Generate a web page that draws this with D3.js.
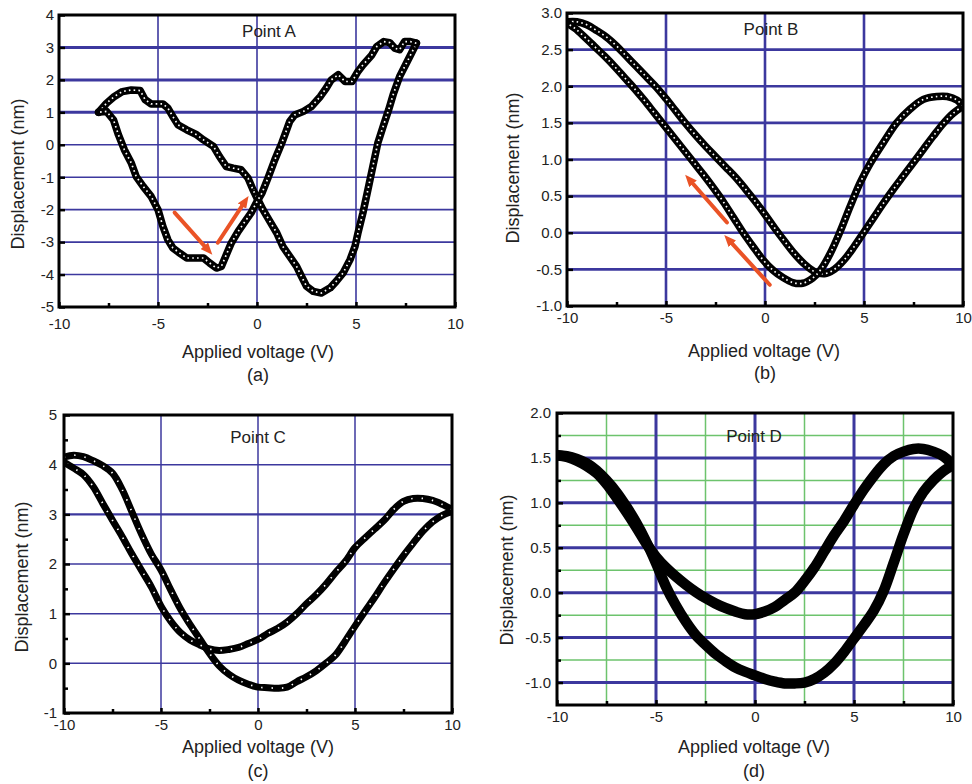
<!DOCTYPE html>
<html>
<head>
<meta charset="utf-8">
<script src="https://cdn.jsdelivr.net/npm/d3@7"></script>
<style>
  body { margin: 0; background: #fff; }
  svg { display: block; font-family: "Liberation Sans", Arial, Helvetica, sans-serif; }
</style>
</head>
<body>
<svg id="fig" width="972" height="784"></svg>
<script>
// ---- data (voltage V, displacement nm) ----
var xTicks = [-10, -5, 0, 5, 10];
var xMinor = [-7.5, -2.5, 2.5, 7.5];

var aYTicks = [-5, -4, -3, -2, -1, 0, 1, 2, 3, 4];
var bYTicks = [-1.0, -0.5, 0.0, 0.5, 1.0, 1.5, 2.0, 2.5, 3.0];
var cYTicks = [-1, 0, 1, 2, 3, 4, 5];
var dYTicks = [-1.0, -0.5, 0.0, 0.5, 1.0, 1.5, 2.0];

// point A
var aForward = [[-8.0,1.0],[-7.6,1.28],[-7.2,1.49],[-6.8,1.64],[-6.35,1.69],[-5.9,1.67],[-5.65,1.39],[-5.35,1.26],
  [-4.75,1.26],[-4.5,1.13],[-4.25,0.87],[-4.0,0.62],[-3.55,0.46],[-3.05,0.31],[-2.7,0.15],[-2.2,-0.05],[-1.9,-0.36],
  [-1.55,-0.67],[-1.2,-0.72],[-0.8,-0.77],[-0.45,-1.03],[-0.2,-1.39],[0,-1.64],[0.3,-2.0],[0.65,-2.36],[1.0,-2.72],
  [1.3,-3.13],[1.65,-3.44],[2.0,-3.75],[2.25,-4.06],[2.5,-4.36],[2.85,-4.52],[3.25,-4.57],[3.7,-4.41],[4.0,-4.21],
  [4.35,-3.95],[4.7,-3.54],[4.95,-3.13],[5.1,-2.72],[5.35,-2.1],[5.6,-1.39],[5.85,-0.67],[6.1,0.05],[6.4,0.62],
  [6.65,1.08],[6.9,1.59],[7.2,2.1],[7.55,2.52],[7.8,2.82],[8.05,3.13]];
var aReverse = [[8.05,3.13],[7.75,3.18],[7.45,3.18],[7.2,2.93],[6.95,2.98],[6.7,3.15],[6.4,3.18],[6.05,3.03],[5.8,2.77],
  [5.35,2.46],[5.1,2.26],[4.8,1.95],[4.45,1.95],[4.1,2.16],[3.75,2.0],[3.5,1.75],[3.2,1.49],[2.75,1.18],[2.35,1.03],
  [1.9,0.92],[1.65,0.72],[1.5,0.46],[1.25,0.05],[0.9,-0.46],[0.55,-1.03],[0.25,-1.49],[0,-1.75],[-0.3,-2.1],
  [-0.6,-2.36],[-0.95,-2.67],[-1.3,-3.03],[-1.55,-3.39],[-1.8,-3.75],[-2.05,-3.8],[-2.4,-3.64],[-2.7,-3.49],
  [-3.15,-3.49],[-3.55,-3.49],[-3.9,-3.34],[-4.25,-3.18],[-4.5,-2.93],[-4.75,-2.52],[-5.0,-2.0],[-5.35,-1.59],
  [-5.75,-1.28],[-6.1,-0.98],[-6.35,-0.56],[-6.7,-0.15],[-7.0,0.31],[-7.25,0.77],[-7.6,1.03],[-8.0,1.0]];
var aArrows = [[[-4.16,-2.09],[-2.49,-3.23]], [[-1.98,-3.02],[-0.62,-1.76]]];

// point B
var bForward = [[-10,2.88],[-9.5,2.88],[-9.0,2.84],[-8.5,2.76],[-8.0,2.67],[-7.5,2.55],[-7.0,2.41],[-6.5,2.27],
  [-6.0,2.13],[-5.5,1.99],[-5.0,1.83],[-4.5,1.66],[-4.0,1.49],[-3.5,1.33],[-3.0,1.18],[-2.5,1.04],[-2.0,0.9],
  [-1.5,0.76],[-1.0,0.6],[-0.5,0.43],[0,0.25],[0.5,0.06],[1.0,-0.12],[1.5,-0.29],[2.0,-0.43],[2.5,-0.53],
  [3.0,-0.56],[3.5,-0.5],[4.0,-0.37],[4.5,-0.19],[5.0,0.01],[5.5,0.21],[6.0,0.41],[6.5,0.6],[7.0,0.78],
  [7.5,0.96],[8.0,1.14],[8.5,1.32],[9.0,1.49],[9.5,1.63],[10,1.73]];
var bReverse = [[10,1.73],[9.7,1.81],[9.2,1.86],[8.7,1.86],[8.0,1.82],[7.3,1.68],[6.65,1.5],[6.0,1.24],[5.3,0.94],
  [4.8,0.68],[4.3,0.36],[3.8,0.02],[3.3,-0.28],[2.8,-0.51],[2.4,-0.62],[1.9,-0.69],[1.4,-0.68],[0.9,-0.61],
  [0.4,-0.51],[-0.1,-0.37],[-0.6,-0.19],[-1.1,0.0],[-1.6,0.21],[-2.1,0.42],[-2.6,0.61],[-3.1,0.79],[-3.6,0.96],
  [-4.1,1.13],[-4.6,1.3],[-5.1,1.47],[-5.6,1.64],[-6.1,1.81],[-6.6,1.97],[-7.1,2.12],[-7.6,2.27],[-8.1,2.41],
  [-8.6,2.54],[-9.1,2.67],[-9.6,2.79],[-10,2.86]];
var bArrows = [[[-1.92,0.14],[-3.8,0.72]], [[0.24,-0.71],[-1.82,-0.1]]];

// point C
var cForward = [[-10,4.15],[-9.5,4.19],[-9.0,4.16],[-8.5,4.08],[-8.0,3.98],[-7.5,3.83],[-7.0,3.5],[-6.5,3.05],
  [-6.0,2.6],[-5.5,2.2],[-5.0,1.88],[-4.5,1.48],[-4.0,1.1],[-3.5,0.78],[-3.0,0.49],[-2.5,0.2],[-2.0,-0.05],
  [-1.5,-0.22],[-1.0,-0.34],[-0.5,-0.42],[0,-0.48],[0.5,-0.49],[1.0,-0.5],[1.5,-0.48],[2.0,-0.37],[2.5,-0.27],
  [3.0,-0.15],[3.5,0.0],[4.0,0.17],[4.5,0.45],[5.0,0.75],[5.5,1.04],[6.0,1.32],[6.5,1.62],[7.0,1.9],[7.5,2.17],
  [8.0,2.42],[8.5,2.66],[9.0,2.85],[9.5,2.98],[10,3.06]];
var cReverse = [[10,3.1],[9.5,3.2],[9.0,3.28],[8.5,3.32],[8.0,3.32],[7.5,3.26],[7.0,3.1],[6.5,2.88],[6.0,2.7],
  [5.5,2.52],[5.0,2.33],[4.5,2.05],[4.0,1.83],[3.5,1.59],[3.0,1.38],[2.5,1.2],[2.0,1.0],[1.5,0.83],[1.0,0.7],
  [0.5,0.6],[0,0.48],[-0.5,0.4],[-1.0,0.32],[-1.5,0.28],[-2.0,0.26],[-2.5,0.29],[-3.0,0.37],[-3.5,0.47],
  [-4.0,0.62],[-4.5,0.85],[-5.0,1.15],[-5.5,1.54],[-6.0,1.87],[-6.5,2.2],[-7.0,2.55],[-7.5,2.88],[-8.0,3.22],
  [-8.5,3.56],[-9.0,3.8],[-9.5,3.93],[-10,4.05]];

// point D
var dUpper = [[-10,1.53],[-9.5,1.51],[-9.0,1.47],[-8.5,1.41],[-8.0,1.33],[-7.5,1.21],[-7.0,1.06],[-6.5,0.9],
  [-6.0,0.73],[-5.5,0.55],[-5.0,0.4],[-4.5,0.28],[-4.0,0.18],[-3.5,0.09],[-3.0,0.01],[-2.5,-0.06],[-2.0,-0.12],
  [-1.5,-0.17],[-1.0,-0.21],[-0.5,-0.24],[0,-0.24],[0.5,-0.21],[1.0,-0.16],[1.5,-0.08],[2.0,0.0],[2.5,0.13],
  [3.0,0.28],[3.5,0.46],[4.0,0.64],[4.5,0.8],[5.0,0.98],[5.5,1.15],[6.0,1.3],[6.5,1.43],[7.0,1.52],[7.5,1.57],
  [8.0,1.6],[8.5,1.6],[9.0,1.57],[9.5,1.52],[10,1.42]];
var dLower = [[10,1.42],[9.5,1.35],[9.0,1.25],[8.5,1.12],[8.0,0.93],[7.5,0.65],[7.0,0.33],[6.5,0.02],[6.0,-0.2],
  [5.5,-0.36],[5.0,-0.51],[4.5,-0.66],[4.0,-0.79],[3.5,-0.89],[3.0,-0.96],[2.5,-1.0],[2.0,-1.01],[1.5,-1.01],
  [1.0,-0.99],[0.5,-0.96],[0,-0.92],[-0.5,-0.88],[-1.0,-0.83],[-1.5,-0.76],[-2.0,-0.68],[-2.5,-0.58],[-3.0,-0.47],
  [-3.5,-0.32],[-4.0,-0.14],[-4.5,0.07],[-5.0,0.33],[-5.5,0.57],[-6.0,0.78],[-6.5,0.96],[-7.0,1.12],[-7.5,1.25],
  [-8.0,1.36],[-8.5,1.44],[-9.0,1.49],[-9.5,1.52],[-10,1.53]];

var BLUE = '#3c389e', GREEN = '#6dc36d', RED = '#ea5326';

var panels = [
  { letter: '(a)', title: 'Point A', left: 59, right: 455, top: 15, bottom: 307, yDomain: [-5, 4],
    yTicks: aYTicks, yMinor: [], dec: 0, xPad: 11, yPad: 5,
    grids: [{ h: [-4, -3, -2, -1, 0], v: [-5, 0, 5], color: BLUE, w: 1.6 }, { h: [1, 2, 3], v: [], color: BLUE, w: 3 }],
    series: [aForward, aReverse], smooth: false, lineW: 7.5, dots: '1.6,3.2', arrows: aArrows,
    titleAt: [269, 37], labelAt: [258, 358], letterAt: [258, 381], yLabelAt: [18, 174] },
  { letter: '(b)', title: 'Point B', left: 567, right: 963, top: 13, bottom: 306, yDomain: [-1, 3],
    yTicks: bYTicks, yMinor: [], dec: 1, xPad: 6, yPad: 5,
    grids: [{ h: [-0.5, 0, 0.5, 1, 1.5, 2, 2.5], v: [-5, 0, 5], color: BLUE, w: 2.6 }],
    series: [bForward, bReverse], smooth: true, lineW: 7.5, dots: '1.6,3.2', arrows: bArrows,
    titleAt: [771, 35], labelAt: [764, 357], letterAt: [765, 379], yLabelAt: [513, 168] },
  { letter: '(c)', title: 'Point C', left: 64, right: 452, top: 415, bottom: 713, yDomain: [-1, 5],
    yTicks: cYTicks, yMinor: [-0.5, 0.5, 1.5, 2.5, 3.5, 4.5], dec: 0, xPad: 6, yPad: 7,
    grids: [{ h: [0, 1, 2, 4], v: [-5, 0, 5], color: BLUE, w: 1.5 }, { h: [3], v: [], color: BLUE, w: 2.4 }],
    series: [cForward, cReverse], smooth: true, lineW: 7, dots: '1.4,9', arrows: [],
    titleAt: [258, 443], labelAt: [258, 753], letterAt: [258, 777], yLabelAt: [22, 577] },
  { letter: '(d)', title: 'Point D', left: 557, right: 953, top: 413, bottom: 705, yDomain: [-1.25, 2],
    yTicks: dYTicks, yMinor: [-0.75, -0.25, 0.25, 0.75, 1.25, 1.75], dec: 1, xPad: 6, yPad: 6,
    grids: [{ h: [-0.75, -0.25, 0.25, 0.75, 1.25, 1.75], v: [-7.5, -2.5, 2.5, 7.5], color: GREEN, w: 1.5 },
            { h: [-1, -0.5, 0, 0.5, 1, 1.5], v: [-5, 0, 5], color: BLUE, w: 3 }],
    series: [dUpper, dLower], smooth: true, lineW: 10.5, dots: null, arrows: [],
    titleAt: [754, 442], labelAt: [754, 753], letterAt: [754, 777], yLabelAt: [507, 570] }
];

var svg = d3.select('#fig');
var defs = svg.append('defs');
defs.append('marker').attr('id', 'head')
    .attr('markerUnits', 'userSpaceOnUse')
    .attr('markerWidth', 12).attr('markerHeight', 10)
    .attr('refX', 5).attr('refY', 5).attr('orient', 'auto')
  .append('path').attr('d', 'M0,0L12,5L0,10z').attr('fill', RED);

panels.forEach(drawPanel);

function drawPanel(p, i) {
  var x = d3.scaleLinear().domain([-10, 10]).range([p.left, p.right]);
  var y = d3.scaleLinear().domain(p.yDomain).range([p.bottom, p.top]);
  var g = svg.append('g');

  // grid lines
  p.grids.forEach(function(gr) {
    g.selectAll(null).data(gr.h).enter().append('line')
      .attr('x1', p.left).attr('x2', p.right)
      .attr('y1', function(d) { return y(d) }).attr('y2', function(d) { return y(d) })
      .attr('stroke', gr.color).attr('stroke-width', gr.w);
    g.selectAll(null).data(gr.v).enter().append('line')
      .attr('y1', p.top).attr('y2', p.bottom)
      .attr('x1', function(d) { return x(d) }).attr('x2', function(d) { return x(d) })
      .attr('stroke', gr.color).attr('stroke-width', gr.w);
  });

  // the measured loops
  defs.append('clipPath').attr('id', 'clip' + i).append('rect')
    .attr('x', p.left - 1).attr('y', p.top - 1)
    .attr('width', p.right - p.left + 2).attr('height', p.bottom - p.top + 2);
  var line = d3.line()
    .x(function(d) { return x(d[0]) })
    .y(function(d) { return y(d[1]) })
    .curve(p.smooth ? d3.curveCatmullRom.alpha(0.5) : d3.curveLinear);
  var curves = g.append('g').attr('clip-path', 'url(#clip' + i + ')');
  p.series.forEach(function(s) {
    curves.append('path').attr('d', line(s))
      .attr('fill', 'none').attr('stroke', '#000').attr('stroke-width', p.lineW)
      .attr('stroke-linecap', 'round').attr('stroke-linejoin', 'round');
    if (p.dots) {
      // hollow centres of the dense circle markers
      curves.append('path').attr('d', line(s))
        .attr('fill', 'none').attr('stroke', '#fff').attr('stroke-width', 1.7)
        .attr('stroke-dasharray', p.dots);
    }
  });

  // frame
  g.append('rect')
    .attr('x', p.left).attr('y', p.top)
    .attr('width', p.right - p.left).attr('height', p.bottom - p.top)
    .attr('fill', 'none').attr('stroke', '#000').attr('stroke-width', 3);

  var yFmt = function(v) { return v.toFixed(p.dec) };
  var xFmt = function(v) { return String(v) };

  var xAxis = g.append('g').attr('transform', 'translate(0,' + p.bottom + ')')
    .call(d3.axisBottom(x).tickValues(xTicks).tickFormat(xFmt)
      .tickSizeInner(-5).tickSizeOuter(0).tickPadding(p.xPad));
  var xMin = g.append('g').attr('transform', 'translate(0,' + p.bottom + ')')
    .call(d3.axisBottom(x).tickValues(xMinor).tickFormat('').tickSizeInner(-4).tickSizeOuter(0));
  var yAxis = g.append('g').attr('transform', 'translate(' + p.left + ',0)')
    .call(d3.axisLeft(y).tickValues(p.yTicks).tickFormat(yFmt)
      .tickSizeInner(-6).tickSizeOuter(0).tickPadding(p.yPad));
  var yMin = g.append('g').attr('transform', 'translate(' + p.left + ',0)')
    .call(d3.axisLeft(y).tickValues(p.yMinor).tickFormat('').tickSizeInner(-4).tickSizeOuter(0));

  [xAxis, xMin, yAxis, yMin].forEach(function(a) {
    a.select('.domain').remove();
    a.selectAll('line').attr('stroke', '#000').attr('stroke-width', 2.5);
    a.selectAll('text').attr('font-size', 15).attr('fill', '#222')
      .attr('font-family', '"Liberation Sans", Arial, sans-serif');
  });

  // red sweep arrows
  g.selectAll(null).data(p.arrows).enter().append('line')
    .attr('x1', function(d) { return x(d[0][0]) }).attr('y1', function(d) { return y(d[0][1]) })
    .attr('x2', function(d) { return x(d[1][0]) }).attr('y2', function(d) { return y(d[1][1]) })
    .attr('stroke', RED).attr('stroke-width', 4).attr('stroke-linecap', 'round')
    .attr('marker-end', 'url(#head)');

  // texts
  g.append('text').attr('x', p.titleAt[0]).attr('y', p.titleAt[1])
    .attr('text-anchor', 'middle').attr('font-size', 17).attr('fill', '#222').text(p.title);
  g.append('text').attr('x', p.labelAt[0]).attr('y', p.labelAt[1])
    .attr('text-anchor', 'middle').attr('font-size', 18).attr('fill', '#222').text('Applied voltage (V)');
  g.append('text').attr('x', p.letterAt[0]).attr('y', p.letterAt[1])
    .attr('text-anchor', 'middle').attr('font-size', 18).attr('fill', '#222').text(p.letter);
  g.append('text')
    .attr('transform', 'translate(' + p.yLabelAt[0] + ',' + p.yLabelAt[1] + ') rotate(-90)')
    .attr('text-anchor', 'middle').attr('dy', '0.35em')
    .attr('font-size', 18).attr('fill', '#222').text('Displacement (nm)');
}
</script>
</body>
</html>
